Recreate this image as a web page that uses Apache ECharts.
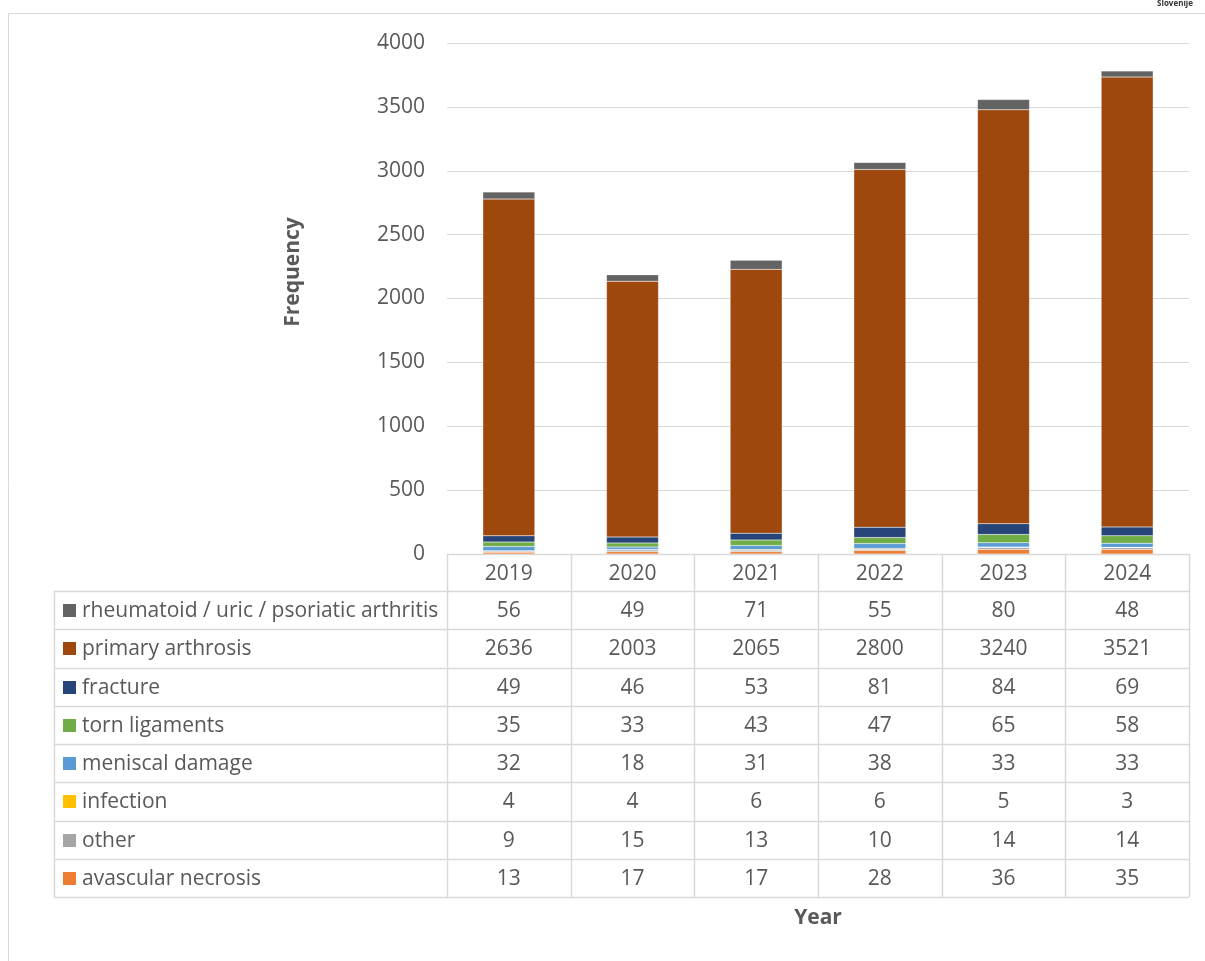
<!DOCTYPE html>
<html><head><meta charset="utf-8">
<script src="https://cdn.jsdelivr.net/npm/echarts@6/dist/echarts.min.js"></script>
<style>html,body{margin:0;padding:0;background:#fff}#c{width:1205px;height:961px}</style>
</head><body><div id="c"></div>
<script>
const years = ['2019','2020','2021','2022','2023','2024'];
// stack order bottom -> top
const avascular = [13,17,17,28,36,35];
const other = [9,15,13,10,14,14];
const infection = [4,4,6,6,5,3];
const meniscal = [32,18,31,38,33,33];
const torn = [35,33,43,47,65,58];
const fracture = [49,46,53,81,84,69];
const primary = [2636,2003,2065,2800,3240,3521];
const rheumatoid = [56,49,71,55,80,48];
const seriesDefs = [
  {name:'avascular necrosis', data:avascular, color:'#ED7D31'},
  {name:'other', data:other, color:'#A5A5A5'},
  {name:'infection', data:infection, color:'#FFC000'},
  {name:'meniscal damage', data:meniscal, color:'#5B9BD5'},
  {name:'torn ligaments', data:torn, color:'#70AD47'},
  {name:'fracture', data:fracture, color:'#264478'},
  {name:'primary arthrosis', data:primary, color:'#9E480E'},
  {name:'rheumatoid / uric / psoriatic arthritis', data:rheumatoid, color:'#636363'}
];
const yTicks = [0,500,1000,1500,2000,2500,3000,3500,4000];

const FONT = '"Open Sans", Lato, sans-serif';
const TXT = '#595959';
const LINE = '#d9d9d9';
const G = {left:447, top:43, width:742, height:511};
const tableLeft = 54, headerH = 37, rowH = 38.25;

const chart = echarts.init(document.getElementById('c'), null, {renderer:'canvas'});

function buildGraphics(){
  const els = [];
  const colW = G.width / years.length;
  const tTop = G.top + G.height;
  const rows = seriesDefs.slice().reverse();
  const bodyTop = tTop + headerH;
  const tBottom = bodyTop + rows.length*rowH;
  const right = G.left + G.width;
  els.push({type:'line', shape:{x1:8.5,y1:13.5,x2:1205,y2:13.5}, style:{stroke:LINE,lineWidth:1}, silent:true});
  els.push({type:'line', shape:{x1:8.5,y1:13.5,x2:8.5,y2:961}, style:{stroke:LINE,lineWidth:1}, silent:true});
  els.push({type:'text', right:12, top:0, style:{text:'Slovenije', font:'bold 8px '+FONT, fill:'#333'}, silent:true});
  els.push({type:'line', shape:{x1:G.left,y1:tTop+0.5,x2:right,y2:tTop+0.5}, style:{stroke:LINE,lineWidth:1.5}, silent:true});
  for (let r=0;r<=rows.length;r++){
    const y = Math.round(bodyTop + r*rowH)+0.5;
    els.push({type:'line', shape:{x1:tableLeft,y1:y,x2:right,y2:y}, style:{stroke:LINE,lineWidth:1.5}, silent:true});
  }
  els.push({type:'line', shape:{x1:tableLeft+0.5,y1:bodyTop,x2:tableLeft+0.5,y2:tBottom}, style:{stroke:LINE,lineWidth:1.5}, silent:true});
  for (let c=0;c<=years.length;c++){
    const x = Math.round(G.left + c*colW)+0.5;
    els.push({type:'line', shape:{x1:x,y1:tTop,x2:x,y2:tBottom}, style:{stroke:LINE,lineWidth:1.5}, silent:true});
  }
  years.forEach((yr,c)=>{
    els.push({type:'text', x:G.left+(c+0.5)*colW, y:tTop+headerH/2+2, style:{text:yr, font:'21px '+FONT, fill:TXT, textAlign:'center', textVerticalAlign:'middle'}, silent:true});
  });
  rows.forEach((s,r)=>{
    const cy = bodyTop + (r+0.5)*rowH;
    els.push({type:'rect', shape:{x:63,y:Math.round(cy-6),width:13,height:13}, style:{fill:s.color}, silent:true});
    els.push({type:'text', x:82, y:cy+1, style:{text:s.name, font:'21px '+FONT, fill:TXT, textAlign:'left', textVerticalAlign:'middle'}, silent:true});
    s.data.forEach((v,c)=>{
      els.push({type:'text', x:G.left+(c+0.5)*colW, y:cy+1, style:{text:String(v), font:'21px '+FONT, fill:TXT, textAlign:'center', textVerticalAlign:'middle'}, silent:true});
    });
  });
  els.push({type:'text', x:293, y:272, rotation:Math.PI/2, style:{text:'Frequency', font:'bold 21px '+FONT, fill:TXT, textAlign:'center', textVerticalAlign:'middle'}, silent:true});
  els.push({type:'text', x:818, y:918, style:{text:'Year', font:'bold 21px '+FONT, fill:TXT, textAlign:'center', textVerticalAlign:'middle'}, silent:true});
  return els;
}

chart.setOption({
  animation:false,
  backgroundColor:'#fff',
  grid:{left:G.left, top:G.top, width:G.width, height:G.height, containLabel:false},
  xAxis:{type:'category', data:years, axisLine:{show:false}, axisTick:{show:false}, axisLabel:{show:false}},
  yAxis:{type:'value', min:yTicks[0], max:yTicks[yTicks.length-1], interval:500,
    axisLine:{show:false}, axisTick:{show:false},
    axisLabel:{color:TXT, fontSize:21, fontFamily:FONT, margin:22, formatter:v=>String(v)},
    splitLine:{lineStyle:{color:LINE, width:1}}},
  series: seriesDefs.map(s=>({name:s.name, type:'bar', stack:'total', data:s.data, barWidth:52,
    itemStyle:{color:s.color, borderColor:'rgba(255,255,255,0.35)', borderWidth:0.5}})),
  graphic: buildGraphics()
});
</script></body></html>
